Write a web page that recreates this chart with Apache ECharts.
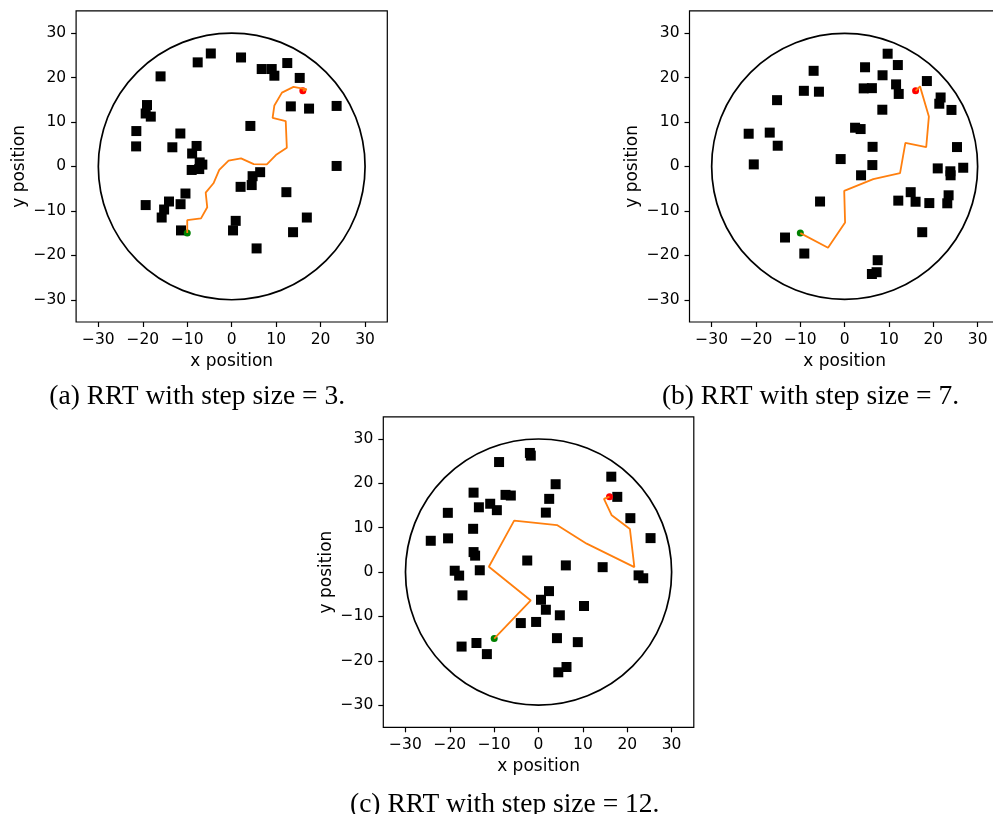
<!DOCTYPE html>
<html>
<head>
<meta charset="utf-8">
<style>
  html, body { margin: 0; padding: 0; background: #fff; overflow: hidden; }
  #chart { width: 1004px; height: 814px; }
</style>
<script src="https://cdn.jsdelivr.net/npm/echarts@6/dist/echarts.min.js"></script>
</head>
<body>
<div id="chart"></div>
<script>
// Tick positions shared by all three panels
const tickValues = [-30, -20, -10, 0, 10, 20, 30];

// Workspace boundary: centre x, centre y, radius
const boundary = [[0, 0, 30]];

// Start and goal positions
const startPoint = [[-10, -15]];
const goalPoint = [[16, 17]];

// Step size 3
const obstaclesA = [
  [-4.7, 25.4], [-7.65, 23.4], [2.1, 24.5], [-16.0, 20.25], [6.75, 21.9], [9.0, 21.9],
  [9.6, 20.4], [12.5, 23.25], [15.3, 19.9], [13.3, 13.5], [17.4, 13.0], [23.6, 13.6],
  [23.6, 0.1], [-19.05, 13.8], [-19.35, 11.9], [-18.2, 11.2], [-21.45, 7.95], [-21.5, 4.5],
  [-11.55, 7.4], [-13.35, 4.3], [-7.9, 4.6], [-8.9, 2.9], [-7.2, 0.9], [-6.6, 0.4],
  [-9.0, -0.8], [-7.3, -0.6], [4.2, 9.1], [6.4, -1.3], [4.7, -2.2], [4.5, -4.2],
  [2.0, -4.6], [12.3, -5.8], [-10.4, -6.1], [-19.35, -8.7], [-14.1, -7.9], [-15.2, -9.7],
  [-15.75, -11.5], [-11.5, -8.5], [-11.4, -14.4], [0.9, -12.25], [0.3, -14.4], [5.6, -18.45],
  [13.8, -14.8], [16.9, -11.5]
];
const pathA = [
  [-10, -15], [-10, -12.1], [-6.9, -11.7], [-5.5, -9.2], [-5.85, -5.9], [-4.1, -3.8],
  [-2.8, -0.8], [-0.7, 1.3], [2.1, 1.8], [4.95, 0.5], [7.9, 0.45], [10.1, 2.7],
  [12.4, 4.2], [12.15, 10.2], [9.2, 10.9], [9.6, 13.7], [11.3, 16.6], [13.9, 17.9],
  [16.9, 17.3], [16, 17]
];

// Step size 7
const obstaclesB = [
  [-21.65, 7.35], [-20.5, 0.45], [-16.9, 7.6], [-15.1, 4.65], [-15.25, 14.9], [-9.2, 17.0],
  [-7.0, 21.5], [-5.8, 16.8], [-5.55, -7.9], [-13.45, -16.0], [-9.1, -19.6], [-0.9, 1.65],
  [2.35, 8.7], [3.6, 8.4], [4.6, 22.3], [4.3, 17.55], [6.15, 17.6], [6.3, 4.4],
  [6.25, 0.3], [3.7, -2.0], [8.5, 12.75], [8.55, 20.5], [9.7, 25.35], [12.0, 22.8],
  [11.6, 18.45], [12.2, 16.3], [18.55, 19.2], [21.65, 15.5], [21.35, 14.1], [24.1, 12.7],
  [25.35, 4.35], [21.0, -0.45], [23.85, -1.1], [23.9, -2.0], [26.75, -0.3], [14.9, -5.8],
  [16.0, -7.95], [12.1, -7.7], [19.1, -8.25], [23.45, -6.5], [23.15, -8.3], [17.5, -14.8],
  [7.45, -21.1], [6.15, -24.2], [7.2, -23.8]
];
const pathB = [
  [-10, -15], [-3.75, -18.3], [0.1, -12.6], [-0.1, -5.5], [6.45, -2.85], [12.5, -1.5],
  [13.7, 5.3], [18.4, 4.35], [19.0, 11.2], [17.0, 18.0], [16, 17]
];

// Step size 12
const obstaclesC = [
  [-24.3, 7.05], [-20.45, 13.35], [-20.4, 7.6], [-18.9, 0.3], [-17.9, -0.8], [-17.15, -5.25],
  [-17.35, -16.8], [-14.0, -16.0], [-11.65, -18.5], [-14.65, 17.9], [-13.45, 14.6], [-14.75, 9.75],
  [-14.65, 4.5], [-14.3, 3.7], [-13.25, 0.4], [-10.9, 15.4], [-9.4, 13.95], [-8.9, 24.8],
  [-7.45, 17.4], [-6.25, 17.25], [-1.95, 26.85], [-1.75, 26.25], [3.85, 19.8], [2.4, 16.5],
  [1.65, 13.4], [-2.55, 2.6], [6.15, 1.5], [14.45, 1.1], [16.4, 21.5], [17.75, 16.95],
  [20.7, 12.15], [25.25, 7.65], [22.55, -0.75], [23.6, -1.4], [2.35, -4.3], [0.55, -6.25],
  [1.65, -8.5], [4.8, -9.75], [10.25, -7.65], [-4.0, -11.5], [-0.55, -11.25], [4.15, -14.9],
  [8.85, -15.8], [6.3, -21.4], [4.45, -22.6]
];
const pathC = [
  [-10, -15], [-1.75, -6.4], [-11.2, 1.2], [-5.5, 11.6], [4.15, 10.6], [10.85, 6.4],
  [21.6, 1.1], [20.6, 9.7], [16.5, 12.8], [14.75, 16.5], [16, 17]
];

const captions = [
  '(a) RRT with step size = 3.',
  '(b) RRT with step size = 7.',
  '(c) RRT with step size = 12.'
];

const panels = [
  { obstacles: obstaclesA, path: pathA, grid: { left: 76.1, top: 10.8, width: 311.2, height: 311.2 }, caption: { x: 197.2, y: 397 } },
  { obstacles: obstaclesB, path: pathB, grid: { left: 689.5, top: 10.8, width: 310.3, height: 311.2 }, caption: { x: 810.5, y: 397 } },
  { obstacles: obstaclesC, path: pathC, grid: { left: 383.3, top: 416.8, width: 310.5, height: 310.5 }, caption: { x: 504.7, y: 805 } }
];

const sans = 'DejaVu Sans';
const minusFmt = v => (v < 0 ? '\u2212' + Math.abs(v) : String(v));

function axis(i, name, isY) {
  return {
    gridIndex: i,
    type: 'value',
    min: -35,
    max: 35,
    name: name,
    nameLocation: 'middle',
    nameGap: isY ? 48 : 31,
    nameTextStyle: { color: '#000', fontFamily: sans, fontSize: 17 },
    axisLine: { show: false, onZero: false },
    splitLine: { show: false },
    axisTick: {
      show: true, inside: false, length: 5,
      customValues: tickValues,
      lineStyle: { color: '#000', width: 1.2 }
    },
    axisLabel: {
      customValues: tickValues,
      formatter: minusFmt,
      color: '#000', fontFamily: sans, fontSize: 15.5, margin: 10
    }
  };
}

const grids = [], xAxes = [], yAxes = [], series = [], graphics = [];

panels.forEach((p, i) => {
  grids.push(Object.assign({ show: true, borderColor: '#000', borderWidth: 1.2, backgroundColor: 'transparent' }, p.grid));
  xAxes.push(axis(i, 'x position', false));
  yAxes.push(axis(i, 'y position', true));

  // circular workspace boundary, sized through the axis scales
  series.push({
    type: 'custom',
    xAxisIndex: i, yAxisIndex: i,
    data: boundary,
    silent: true,
    z: 1,
    renderItem: (params, api) => {
      const c = api.coord([api.value(0), api.value(1)]);
      const r = api.size([api.value(2), 0])[0];
      return {
        type: 'circle',
        shape: { cx: c[0], cy: c[1], r: r },
        style: { fill: 'none', stroke: '#000', lineWidth: 1.7 }
      };
    }
  });
  series.push({
    type: 'scatter', xAxisIndex: i, yAxisIndex: i,
    data: p.obstacles, symbol: 'rect', symbolSize: 10,
    itemStyle: { color: '#000', opacity: 1 }, z: 2, silent: true
  });
  series.push({
    type: 'scatter', xAxisIndex: i, yAxisIndex: i,
    data: startPoint, symbol: 'circle', symbolSize: 7,
    itemStyle: { color: '#008000', opacity: 1 }, z: 3, silent: true
  });
  series.push({
    type: 'scatter', xAxisIndex: i, yAxisIndex: i,
    data: goalPoint, symbol: 'circle', symbolSize: 7,
    itemStyle: { color: '#ff0000', opacity: 1 }, z: 3, silent: true
  });
  series.push({
    type: 'line', xAxisIndex: i, yAxisIndex: i,
    data: p.path, showSymbol: false, symbol: 'none',
    lineStyle: { color: '#ff7f0e', width: 1.8 }, z: 4, silent: true,
    animation: false
  });

  graphics.push({
    type: 'text', x: p.caption.x, y: p.caption.y,
    style: {
      text: captions[i], fill: '#000',
      font: '27.5px "Liberation Serif"',
      align: 'center', verticalAlign: 'middle'
    }
  });
});

const chart = echarts.init(document.getElementById('chart'), null, { renderer: 'canvas' });
chart.setOption({
  animation: false,
  backgroundColor: '#fff',
  grid: grids,
  xAxis: xAxes,
  yAxis: yAxes,
  series: series,
  graphic: graphics
});
</script>
</body>
</html>
